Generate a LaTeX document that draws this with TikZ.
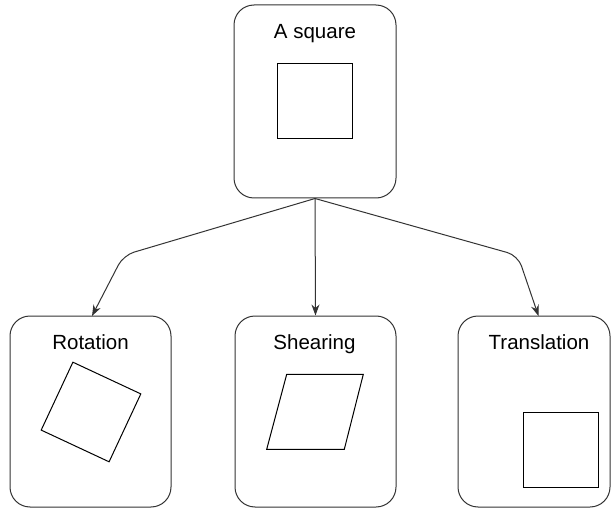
\documentclass[tikz,border=0pt]{standalone}
\usepackage{fontspec}
\setmainfont{Liberation Sans}
\usetikzlibrary{arrows.meta}
\begin{document}
\begin{tikzpicture}[x=1pt,y=-1pt,
  box/.style={draw=black!80, line width=1pt, rounded corners=20pt, inner sep=0pt, fill=white},
  lbl/.style={font=\fontsize{20.5}{24}\selectfont, inner sep=0pt, anchor=base},
  shp/.style={draw=black, line width=1pt, line join=miter},
  arr/.style={draw=black!80, line width=1pt, rounded corners=11pt, -{Stealth[length=11pt,width=8pt]}}]
\useasboundingbox (0,0) rectangle (611,508);
% boxes
\node[box, minimum width=162pt, minimum height=193pt] (top) at (315,101.5) {};
\node[box, minimum width=161pt, minimum height=191pt] (rot) at (90.5,411.5) {};
\node[box, minimum width=161pt, minimum height=191pt] (she) at (315.5,411.5) {};
\node[box, minimum width=152pt, minimum height=191pt] (tra) at (534,411.5) {};
% labels
\node[lbl] (ltop) at (315,38.5) {A square};
\node[lbl] (lrot) at (90.5,349.3) {Rotation};
\node[lbl] (lshe) at (314.5,349.3) {Shearing};
\node[lbl] (ltra) at (539,349.3) {Translation};
% shapes
\draw[shp] (277.5,64) rectangle (352.5,139);
\draw[shp] (72.9,362.2) -- (140.8,393.9) -- (109.1,461.8) -- (41.2,430.1) -- cycle;
\draw[shp] (286.7,374.3) -- (363.3,374.3) -- (344.3,449.3) -- (266.7,449.3) -- cycle;
\draw[shp] (523.3,412.3) rectangle (598.3,487.3);
% connectors
\coordinate (bl) at (123.4,255.3);
\coordinate (br) at (517.9,255.5);
\coordinate (trot) at (92,316);
\coordinate (ttra) at (538.5,316);
\draw[arr] (top.south) -- (bl) -- (trot);
\draw[arr] (top.south) -- (she.north);
\draw[arr] (top.south) -- (br) -- (ttra);
\end{tikzpicture}
\end{document}
